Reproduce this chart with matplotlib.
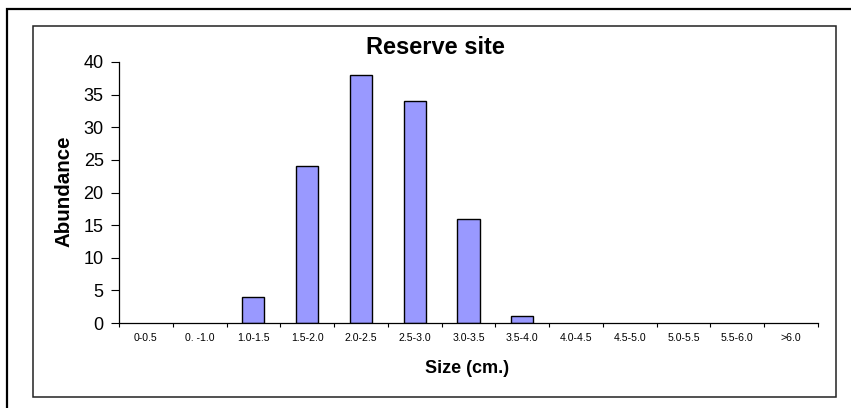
import matplotlib
matplotlib.use('Agg')
import matplotlib.pyplot as plt
from matplotlib.patches import Rectangle
import numpy as np

plt.rcParams['font.family'] = ['Liberation Sans', 'DejaVu Sans']

# Data
size_classes = ['0-0.5', '0. -1.0', '1.0-1.5', '1.5-2.0', '2.0-2.5', '2.5-3.0',
                '3.0-3.5', '3.5-4.0', '4.0-4.5', '4.5-5.0', '5.0-5.5',
                '5.5-6.0', '>6.0']
abundance = [0, 0, 4, 24, 38, 34, 16, 1, 0, 0, 0, 0, 0]

W, H = 851, 408
fig = plt.figure(figsize=(W / 100, H / 100), dpi=100)

# Borders (outer one runs off the right/bottom edge)
fig.patches.append(Rectangle((7 / W, -0.1), 1.2, 1 - 9 / H + 0.1,
                             transform=fig.transFigure, fill=False,
                             edgecolor='black', linewidth=1.6))
fig.patches.append(Rectangle((33 / W, 1 - 397 / H), (836 - 33) / W,
                             (397 - 26) / H, transform=fig.transFigure,
                             fill=False, edgecolor='#222222', linewidth=1.1))

ax = fig.add_axes([119 / W, 1 - 323 / H, (818 - 119) / W, (323 - 62) / H])
x = np.arange(len(size_classes))
# zero-height bars leave no outline in the original
lw = [1.0 if v > 0 else 0 for v in abundance]
ax.bar(x, abundance, width=0.41, color='#9999ff', edgecolor='black',
       linewidth=lw)

ax.set_xlim(-0.5, len(size_classes) - 0.5)
ax.set_ylim(0, 40)
ax.set_yticks(range(0, 41, 5))
ax.tick_params(axis='y', labelsize=13, length=6, width=0.8, direction='out',
               pad=5)
ax.set_xticks(np.arange(-0.5, len(size_classes), 1))
ax.set_xticklabels([])
ax.set_xticks(x, minor=True)
ax.set_xticklabels(size_classes, minor=True, fontsize=7.6)
ax.tick_params(axis='x', which='major', length=3, width=0.8, direction='out')
ax.tick_params(axis='x', which='minor', length=0, pad=7)

for s in ['top', 'right']:
    ax.spines[s].set_visible(False)
for s in ['left', 'bottom']:
    ax.spines[s].set_linewidth(0.9)

fig.text(435 / W, 1 - 54 / H, 'Reserve site', ha='center', va='baseline',
         fontsize=17, fontweight='bold')
fig.text(467 / W, 1 - 373 / H, 'Size (cm.)', ha='center', va='baseline',
         fontsize=13, fontweight='bold')
fig.text(64 / W, 1 - 191 / H, 'Abundance', ha='center', va='center',
         rotation=90, fontsize=14.8, fontweight='bold')

plt.savefig('out.png', dpi=100)
